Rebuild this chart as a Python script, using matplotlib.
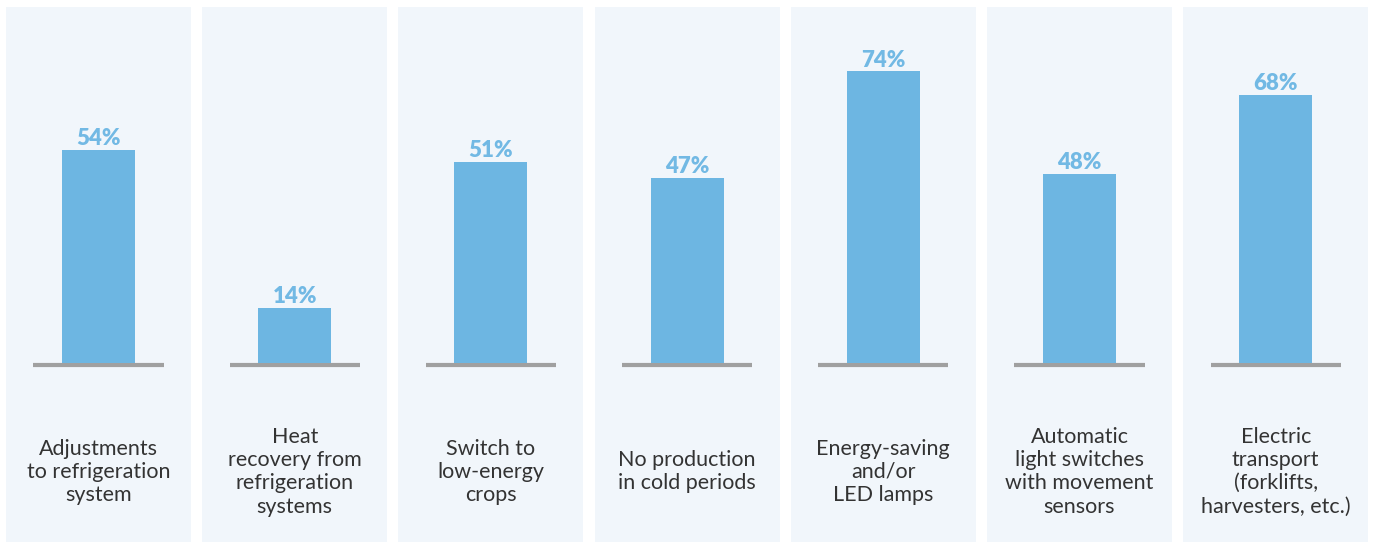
import matplotlib.pyplot as plt
from matplotlib.patches import Rectangle

# ------------------------------------
# Data
# ------------------------------------
categories = [
    "Adjustments\nto refrigeration\nsystem",
    "Heat\nrecovery from\nrefrigeration\nsystems",
    "Switch to\nlow-energy\ncrops",
    "No production\nin cold periods",
    "Energy-saving\nand/or\nLED lamps",
    "Automatic\nlight switches\nwith movement\nsensors",
    "Electric\ntransport\n(forklifts,\nharvesters, etc.)",
]
shares = [54, 14, 51, 47, 74, 48, 68]

# ------------------------------------
# Style
# ------------------------------------
BAR_COLOR = "#6db6e2"
LABEL_COLOR = "#72b9e4"
PANEL_COLOR = "#f1f6fb"
BASE_COLOR = "#a0a0a0"
TEXT_COLOR = "#333333"

fig = plt.figure(figsize=(13.75, 5.42), dpi=100)
ax = fig.add_axes([0, 0, 1, 1])

px_per_pct = 3.94
ax.set_xlim(-0.502, 6.506)
ax.set_ylim(-179 / px_per_pct, 363 / px_per_pct)
ax.axis("off")

n = len(categories)
x = list(range(n))

# panel backgrounds
panel_w = 0.943
panel_top = (363 - 7) / px_per_pct
panel_bottom = -180 / px_per_pct
for i in x:
    ax.add_patch(Rectangle(
        (i - panel_w / 2, panel_bottom),
        panel_w,
        panel_top - panel_bottom,
        facecolor=PANEL_COLOR,
        edgecolor="none",
        zorder=0
    ))

# baselines
ax.hlines(
    [-0.5] * n,
    [i - 0.332 for i in x],
    [i + 0.332 for i in x],
    color=BASE_COLOR,
    linewidth=3,
    zorder=1
)

# bars
bars = ax.bar(x, shares, width=0.372, color=BAR_COLOR, zorder=2)

for rect, val in zip(bars, shares):
    ax.annotate(
        f"{val}%",
        (rect.get_x() + rect.get_width() / 2, rect.get_height()),
        xytext=(0, 3.5),
        textcoords="offset points",
        ha="center",
        va="baseline",
        fontsize=16,
        fontweight="heavy",
        family=["Lato", "DejaVu Sans"],
        color=LABEL_COLOR,
        zorder=3
    )

# category labels
label_y = -27.6
for i, name in zip(x, categories):
    ax.text(
        i,
        label_y,
        name,
        ha="center",
        va="center",
        fontsize=15.5,
        fontweight="normal",
        family=["Lato", "DejaVu Sans"],
        color=TEXT_COLOR,
        linespacing=1.2
    )

fig.savefig("out.png", dpi=100, facecolor="white")
